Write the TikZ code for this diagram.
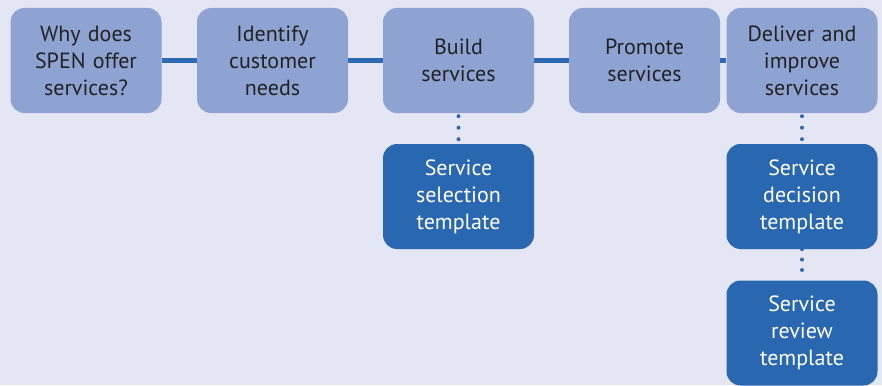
\documentclass[tikz,border=0pt]{standalone}
\usepackage{fontspec}
\setmainfont{PT Sans}
\definecolor{bg}{HTML}{E4E6F4}
\definecolor{light}{HTML}{8FA3D3}
\definecolor{dark}{HTML}{2A67B1}
\definecolor{txt}{HTML}{222222}
\definecolor{lineblue}{HTML}{2C6AB3}
\begin{document}
\begin{tikzpicture}[x=1pt,y=-1pt,
  box/.style={rounded corners=14pt,minimum width=151pt,minimum height=105pt,inner sep=0pt,align=center,text width=145pt,font=\fontsize{22}{27}\selectfont},
  stage/.style={box,fill=light,text=txt},
  tmpl/.style={box,fill=dark,text=white},
  conn/.style={draw=lineblue,line width=5pt},
  dots/.style={draw=lineblue,line width=4pt,line cap=round,dash pattern=on 0pt off 11.5pt}]
\fill[bg] (0,0) rectangle (882,385);
\useasboundingbox (0,0) rectangle (882,385);
\node[stage] (s1) at (86,60.5) {Why does\\SPEN offer\\services?};
\node[stage] (s2) at (272.5,60.5) {Identify\\customer\\needs};
\node[stage] (s3) at (458.5,60.5) {Build\\services};
\node[stage] (s4) at (644.5,60.5) {Promote\\services};
\node[stage] (s5) at (802,60.5) {Deliver and\\improve\\services};
\draw[conn] (s1.east) -- (s2.west);
\draw[conn] (s2.east) -- (s3.west);
\draw[conn] (s3.east) -- (s4.west);
\draw[conn] (s4.east) -- (s5.west);
\node[tmpl] (t1) at (458.5,196.5) {Service\\selection\\template};
\node[tmpl] (t2) at (802,196.5) {Service\\decision\\template};
\node[tmpl] (t3) at (802,333) {Service\\review\\template};
\draw[dots] ([yshift=-3pt]s3.south) -- (t1.north);
\draw[dots] ([yshift=-3pt]s5.south) -- (t2.north);
\draw[dots,dash pattern=on 0pt off 10.4pt] (t2.south) -- (t3.north);
\end{tikzpicture}
\end{document}
